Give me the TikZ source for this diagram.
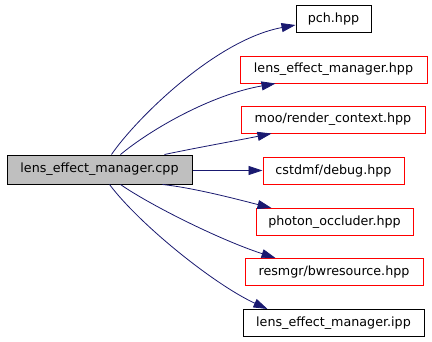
\documentclass[tikz,border=0pt]{standalone}
\usepackage{fontspec}
\setmainfont{DejaVu Sans}
\usetikzlibrary{arrows.meta,calc}
\definecolor{edgeblue}{HTML}{191970}
\definecolor{boxred}{HTML}{FF0000}
\definecolor{srcgrey}{HTML}{BFBFBF}
\begin{document}
\begin{tikzpicture}[x=1pt,y=-1pt,
  file/.style={draw=black,line width=1pt,rectangle,inner sep=0pt,minimum height=27pt,
    font=\fontsize{12.7}{14}\selectfont,text=black},
  missing/.style={file,draw=boxred},
  source/.style={file,fill=srcgrey,minimum height=29pt},
  dep/.style={draw=edgeblue,line width=0.8pt,-{Triangle[length=14pt,width=9pt]},fill=none}]
  \fill[white] (0,0) rectangle (432,341);
  \useasboundingbox (0,0) rectangle (432,341);

  % included file and its headers
  \node[source,minimum width=185pt] (src) at (99.5,169.5) {lens\_effect\_manager.cpp};
  \node[file,minimum width=75pt] (pch) at (333.5,18.5) {pch.hpp};
  \node[missing,minimum width=187pt] (lemh) at (333.5,69.5) {lens\_effect\_manager.hpp};
  \node[missing,minimum width=184pt] (moo) at (333,119.5) {moo/render\_context.hpp};
  \node[missing,minimum width=141pt] (dbg) at (333.5,170.5) {cstdmf/debug.hpp};
  \node[missing,minimum width=157pt] (pho) at (334.5,222) {photon\_occluder.hpp};
  \node[missing,minimum width=178pt] (res) at (334,272) {resmgr/bwresource.hpp};
  \node[file,minimum width=181pt] (ipp) at (333.5,323) {lens\_effect\_manager.ipp};

  % include edges
  \draw[dep] ($(src.north west)+(105,0)$) .. controls (135,120) and (215,40) .. ($(pch.west)+(0,6.5)$);
  \draw[dep] ($(src.north west)+(114,0)$) .. controls (150,130) and (210,95) .. ($(lemh.south west)+(36,0)$);
  \draw[dep] ($(src.north west)+(158,0)$) .. controls (195,148) and (240,140) .. ($(moo.south west)+(31,0)$);
  \draw[dep] (src.east |- dbg.west) -- (dbg.west);
  \draw[dep] ($(src.south west)+(156,0)$) .. controls (195,188) and (240,200) .. ($(pho.north west)+(16,0)$);
  \draw[dep] ($(src.south west)+(114,0)$) .. controls (150,205) and (220,240) .. ($(res.north west)+(31,0)$);
  \draw[dep] ($(src.south west)+(103,0)$) .. controls (140,225) and (215,285) .. ($(ipp.north west)+(25,0)$);
\end{tikzpicture}
\end{document}
